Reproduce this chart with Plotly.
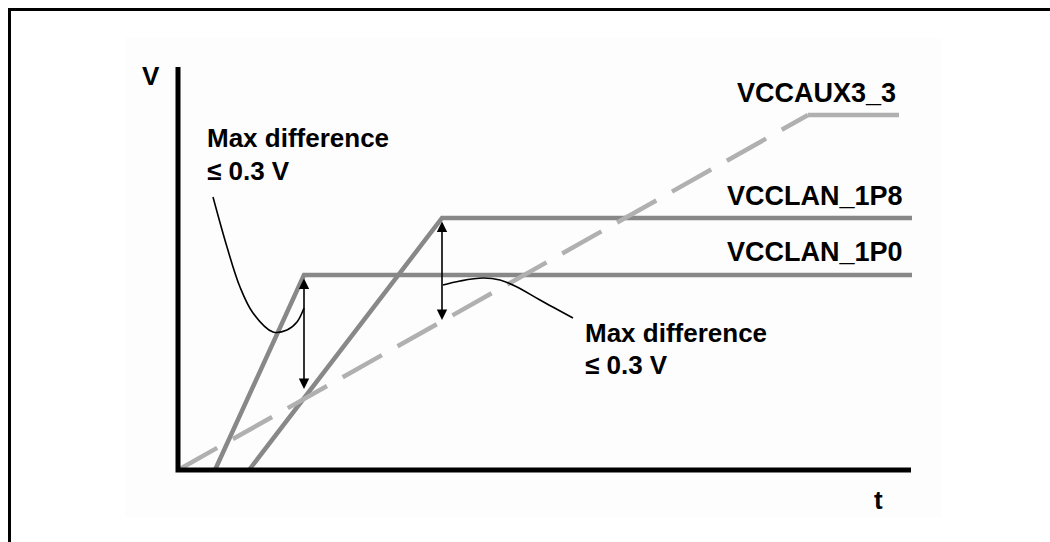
import plotly.graph_objects as go

# ---- schematic data (arbitrary units: t = time, V = voltage) ----
axis_t = [0, 0, 73.3]
axis_v = [40.3, 0, 0]

vcclan_1p0_t = [3.7, 12.6, 73.4]
vcclan_1p0_v = [0, 19.5, 19.5]

vcclan_1p8_t = [7.1, 26.4, 73.4]
vcclan_1p8_v = [0, 25.2, 25.2]

vccaux3_3_t = [0, 63.0, 72.1]
vccaux3_3_v = [0, 35.5, 35.5]

series_labels = ["VCCAUX3_3", "VCCLAN_1P8", "VCCLAN_1P0"]
label_t = [72.0, 72.7, 72.7]
label_v = [37.7, 27.4, 21.8]

# callout curves
callout1_t = [3.5, 4.9, 6.2, 7.5, 9.5, 10.9, 11.9, 12.6]
callout1_v = [27.3, 22.3, 18.3, 15.7, 13.8, 14.0, 14.8, 16.2]
callout2_t = [26.5, 28.2, 30.5, 32.2, 33.9, 36.2, 39.5]
callout2_v = [18.5, 18.9, 19.2, 19.0, 18.3, 17.0, 15.2]

# double arrows (max difference)
arrow_t = [12.6, 26.4]
arrow_top = [19.3, 25.0]
arrow_bottom = [8.1, 15.0]

note_lines = ["Max difference", "≤ 0.3 V"]
note_t = [2.7, 40.5]
note_v_line1 = [33.2, 13.7]
note_v_line2 = [29.9, 10.5]

axis_titles = ["V", "t"]
axis_title_t = [-2.7, 70.0]
axis_title_v = [39.4, -3.0]

SOLID = "#888888"
DASHED = "#b0b0b0"
FONT = "Liberation Sans, Arial, sans-serif"

fig = go.Figure()

fig.add_trace(go.Scatter(x=vcclan_1p0_t, y=vcclan_1p0_v, mode="lines",
                         line=dict(color=SOLID, width=4.5), hoverinfo="skip"))
fig.add_trace(go.Scatter(x=vcclan_1p8_t, y=vcclan_1p8_v, mode="lines",
                         line=dict(color=SOLID, width=4.5), hoverinfo="skip"))
# ramp dashed, plateau solid
fig.add_trace(go.Scatter(x=vccaux3_3_t[:2], y=vccaux3_3_v[:2], mode="lines",
                         line=dict(color=DASHED, width=4.5, dash="45px,18px"),
                         hoverinfo="skip"))
fig.add_trace(go.Scatter(x=vccaux3_3_t[1:], y=vccaux3_3_v[1:], mode="lines",
                         line=dict(color=DASHED, width=4.5), hoverinfo="skip"))

fig.add_trace(go.Scatter(x=callout1_t, y=callout1_v, mode="lines",
                         line=dict(color="black", width=1.6, shape="spline"),
                         hoverinfo="skip"))
fig.add_trace(go.Scatter(x=callout2_t, y=callout2_v, mode="lines",
                         line=dict(color="black", width=1.6, shape="spline"),
                         hoverinfo="skip"))

fig.add_trace(go.Scatter(x=axis_t, y=axis_v, mode="lines",
                         line=dict(color="black", width=5), hoverinfo="skip"))

annotations = []
for t, top, bot in zip(arrow_t, arrow_top, arrow_bottom):
    annotations.append(dict(x=t, y=bot, ax=t, ay=top, xref="x", yref="y",
                            axref="x", ayref="y", text="", showarrow=True,
                            arrowhead=2, startarrowhead=2, arrowside="end+start",
                            arrowsize=1.3, startarrowsize=1.3, arrowwidth=1.6,
                            arrowcolor="black"))

for lab, t, v in zip(series_labels, label_t, label_v):
    annotations.append(dict(x=t, y=v, xref="x", yref="y", text="<b>%s</b>" % lab,
                            showarrow=False, xanchor="right", yanchor="middle",
                            font=dict(family=FONT, size=27, color="black")))

for t, v1, v2 in zip(note_t, note_v_line1, note_v_line2):
    for line, v in zip(note_lines, [v1, v2]):
        annotations.append(dict(x=t, y=v, xref="x", yref="y", text="<b>%s</b>" % line,
                                showarrow=False, xanchor="left", yanchor="middle",
                                font=dict(family=FONT, size=26, color="black")))

for lab, t, v in zip(axis_titles, axis_title_t, axis_title_v):
    annotations.append(dict(x=t, y=v, xref="x", yref="y", text="<b>%s</b>" % lab,
                            showarrow=False, xanchor="center", yanchor="middle",
                            font=dict(family=FONT, size=26, color="black")))

shapes = [
    dict(type="rect", xref="paper", yref="paper", x0=125 / 1050, x1=942 / 1050,
         y0=1 - 517 / 542, y1=1 - 38 / 542, fillcolor="#fdfdfd",
         line=dict(width=0), layer="below"),
    dict(type="rect", xref="paper", yref="paper", x0=9.5 / 1050, x1=1.05,
         y0=-0.05, y1=1 - 9.5 / 542, line=dict(color="black", width=3),
         fillcolor="rgba(0,0,0,0)", layer="above"),
]

fig.update_layout(
    width=1050, height=542, autosize=False,
    margin=dict(l=0, r=0, t=0, b=0),
    paper_bgcolor="white", plot_bgcolor="rgba(0,0,0,0)",
    showlegend=False,
    xaxis=dict(range=[-17.8, 87.2], visible=False, fixedrange=True),
    yaxis=dict(range=[-7.2, 47.0], visible=False, fixedrange=True),
    annotations=annotations, shapes=shapes,
)

fig.write_html(
    "out.html",
    config={"displayModeBar": False},
    post_script="document.body.style.margin='0px';document.body.style.overflow='hidden';",
)
